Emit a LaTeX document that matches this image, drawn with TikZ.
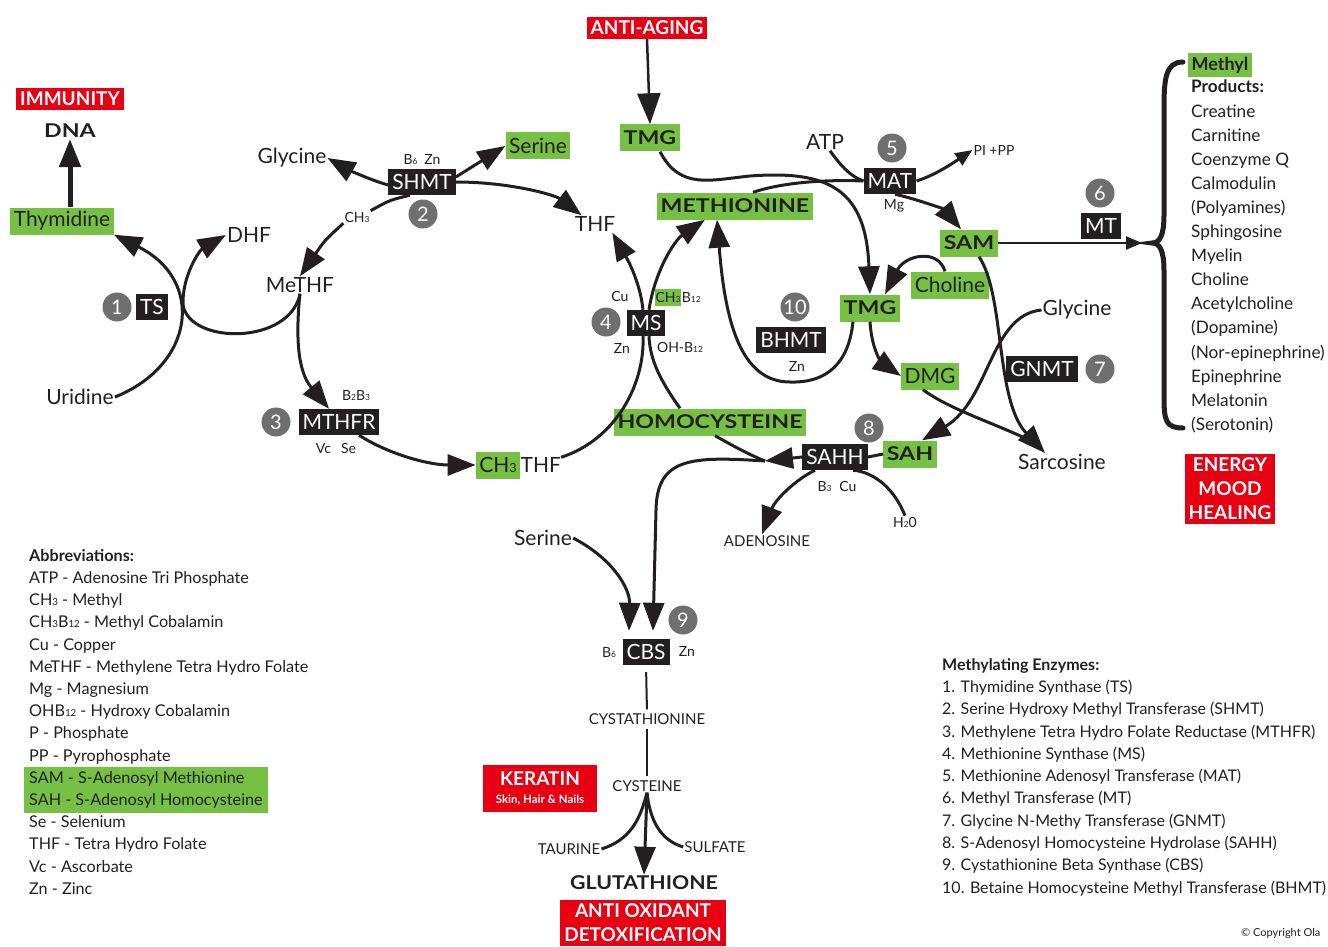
\documentclass[tikz,border=0pt]{standalone}
\usepackage{fontspec}
\setmainfont{Lato}
\usetikzlibrary{arrows.meta}

\definecolor{ink}{RGB}{35,31,32}
\definecolor{leaf}{RGB}{118,193,67}
\definecolor{alert}{RGB}{232,0,18}
\definecolor{stone}{RGB}{110,111,110}

\newcommand{\lo}[1]{\scalebox{0.6}{#1}}
\newcommand{\wb}[1]{\scalebox{1.22}[1]{#1}}
\newcommand{\txtL}{\fontsize{21}{24}\selectfont}
\newcommand{\txtS}{\fontsize{14}{16}\selectfont}
\newcommand{\txtC}{\fontsize{15}{18}\selectfont}
\newcommand{\txtB}{\fontsize{19}{24}\selectfont\bfseries}
\newcommand{\txtE}{\fontsize{21}{24}\selectfont}
\newcommand{\txtN}{\fontsize{20}{20}\selectfont}
\newcommand{\txtW}{\fontsize{19}{24}\selectfont\bfseries}

\begin{document}
\begin{tikzpicture}[x=1pt,y=-1pt,
  txt/.style={inner sep=1pt,text=ink},
  grn/.style={fill=leaf,text=ink,inner xsep=3.5pt,inner ysep=0pt,minimum height=27pt},
  enz/.style={fill=ink,text=white,font=\txtE,inner xsep=4pt,inner ysep=0pt,minimum height=26pt},
  num/.style={circle,fill=stone,text=white,font=\txtN,minimum size=29pt,inner sep=0pt},
  warn/.style={fill=alert,text=white,font=\txtW,inner xsep=4pt,inner ysep=4pt},
  ln/.style={draw=ink,line width=3pt},
  arr/.style={ln,-{Triangle[length=28pt,width=21pt]}}]
\useasboundingbox (0,0) rectangle (1328,947);

% 红色标签
\node[warn] (aging) at (647,28) {ANTI-AGING};
\node[warn] (immun) at (70,99) {IMMUNITY};
\node[warn,align=center,minimum width=114pt,minimum height=47pt] (kera) at (540,788) {KERATIN\\[-6pt]{\fontsize{11.5}{12}\selectfont\bfseries Skin, Hair \& Nails}};
\node[warn,align=center] (energy) at (1230,489) {ENERGY\\MOOD\\HEALING};
\node[warn,align=center] (oxid) at (643,923) {ANTI OXIDANT\\DETOXIFICATION};

% 绿色标签
\node[grn,font=\txtL] (thym) at (62,221) {Thymidine};
\node[grn,font=\txtL] (serT) at (538,146) {Serine};
\node[grn,font=\txtB] (tmgT) at (650,138) {\wb{TMG}};
\node[grn,font=\txtB] (meth) at (735,206) {\wb{METHIONINE}};
\node[grn,font=\txtB] (sam) at (969,243) {\wb{SAM}};
\node[grn,font=\txtL] (chol) at (950,285) {Choline};
\node[grn,font=\txtB] (tmgM) at (870,308) {\wb{TMG}};
\node[grn,font=\txtL] (dmg) at (930,376) {DMG};
\node[grn,font=\txtB] (homo) at (710,422) {\wb{HOMOCYSTEINE}};
\node[grn,font=\txtB] (sah) at (910,454) {\wb{SAH}};
\node[grn,font=\txtL] (ch3) at (498,465) {CH\lo{3}};
\node[txt,font=\txtL,anchor=west,inner sep=0pt] (thf2) at (ch3.east) {THF};
\node[grn,font=\txtS,inner xsep=1pt,minimum height=17pt] (ch3b) at (668,297) {CH\lo{3}};
\node[txt,font=\txtS,anchor=west,inner sep=0pt] (b12) at (ch3b.east) {B\lo{12}};
\node[grn,font=\fontsize{18}{20}\selectfont\bfseries,minimum height=24pt] (methyl) at (1220,65) {Methyl};

% 酶
\node[enz] (ts) at (152,307) {TS};
\node[enz] (shmt) at (422,182) {SHMT};
\node[enz] (mthfr) at (339,422) {MTHFR};
\node[enz] (ms) at (646,323) {MS};
\node[enz] (mat) at (890,181) {MAT};
\node[enz] (mt) at (1101,226) {MT};
\node[enz] (bhmt) at (791,340) {BHMT};
\node[enz] (gnmt) at (1042,369) {GNMT};
\node[enz] (sahh) at (835,457) {SAHH};
\node[enz] (cbs) at (646,652) {CBS};

% 编号
\node[num] (n1) at (117,307) {1};
\node[num] (n2) at (423,214) {2};
\node[num] (n3) at (276,422) {3};
\node[num] (n4) at (606,322) {4};
\node[num] (n5) at (892,148) {5};
\node[num] (n6) at (1100,193) {6};
\node[num] (n7) at (1100,369) {7};
\node[num] (n8) at (869,428) {8};
\node[num] (n9) at (683,620) {9};
\node[num] (n10) at (795,307) {10};

% 文字
\node[txt,font=\txtB] (dna) at (70,131) {\wb{DNA}};
\node[txt,font=\txtL] (gly) at (292,158) {Glycine};
\node[txt,font=\txtS] (b6zn) at (422,160) {B\lo{6}\hspace{7pt}Zn};
\node[txt,font=\txtS,fill=white] (ch3s) at (357,217) {CH\lo{3}};
\node[txt,font=\txtL] (thf) at (595,224) {THF};
\node[txt,font=\txtL] (methf) at (300,285) {MeTHF};
\node[txt,font=\txtL] (dhf) at (249,235) {DHF};
\node[txt,font=\txtL] (uri) at (80,397) {Uridine};
\node[txt,font=\txtS] (b2b3) at (356,396) {B\lo{2}B\lo{3}};
\node[txt,font=\txtS] (vcse) at (336,448) {Vc\hspace{10pt}Se};
\node[txt,font=\txtS] (cu4) at (620,296) {Cu};
\node[txt,font=\txtS] (zn4) at (622,348) {Zn};
\node[txt,font=\txtS] (ohb) at (680,347) {OH-B\lo{12}};
\node[txt,font=\txtL] (atp) at (825,142) {ATP};
\node[txt,font=\txtS] (pipp) at (994,150) {PI +PP};
\node[txt,font=\txtS] (mg) at (894,206) {Mg};
\node[txt,font=\txtS] (zn10) at (797,366) {Zn};
\node[txt,font=\txtL] (glyR) at (1077,310) {Glycine};
\node[txt,font=\txtL] (sarc) at (1062,462) {Sarcosine};
\node[txt,font=\txtS] (b3cu) at (837,486) {B\lo{3}\hspace{8pt}Cu};
\node[txt,font=\txtS] (h2o) at (905,522) {H\lo{2}0};
\node[txt,font=\txtC] (aden) at (767,541) {ADENOSINE};
\node[txt,font=\txtL] (serB) at (543,538) {Serine};
\node[txt,font=\txtS] (b6) at (609,653) {B\lo{6}};
\node[txt,font=\txtS] (zn9) at (687,651) {Zn};
\node[txt,font=\txtC] (cysta) at (647,719) {CYSTATHIONINE};
\node[txt,font=\txtC] (cyste) at (647,786) {CYSTEINE};
\node[txt,font=\txtC] (taur) at (569,849) {TAURINE};
\node[txt,font=\txtC] (sulf) at (715,847) {SULFATE};
\node[txt,font=\txtB] (glut) at (644,883) {\scalebox{1.12}[1]{GLUTATHIONE}};
\coordinate (prod) at (1142,243);
\coordinate (hj) at (765,461);

% 叶酸循环
\draw[arr,line width=5pt] (dna.south |- thym.north) -- (dna.south); % DNA
\draw[arr] (uri.east) .. controls (195,365) and (205,280) .. (thym.south east); % Uridine
\draw[ln] (methf.south) .. controls (290,345) and (190,345) .. (183,305);
\draw[arr] (183,305) .. controls (182,275) and (200,250) .. (dhf.west); % DHF
\draw[arr] (methf.south) .. controls (293,360) and (305,380) .. ([xshift=-10pt]mthfr.north); % MTHFR
\draw[arr] ([xshift=20pt]mthfr.south) .. controls (390,455) and (430,465) .. (ch3.west); % CH3THF
\draw[arr] ([yshift=-3pt]shmt.west) .. controls (370,180) and (345,168) .. (gly.east); % Glycine
\draw[arr] ([yshift=5pt]shmt.east) -- (serT.west); % Serine
\draw[arr] (shmt.east) .. controls (510,182) and (555,195) .. ([xshift=8pt]thf.north west); % THF
\draw[ln] ([xshift=-12pt]shmt.south) .. controls (390,200) .. (ch3s.north east);
\draw[arr] (ch3s.south west) .. controls (325,240) .. (methf.north); % MeTHF

% MS
\draw[ln] (thf2.north east) .. controls (615,440) and (645,385) .. ([xshift=-3pt]ms.south);
\draw[arr] ([xshift=3pt]ms.north) .. controls (655,270) and (675,240) .. ([xshift=-30pt]meth.south);
\draw[ln] ([xshift=-30pt]homo.north) .. controls (660,380) and (650,360) .. ([xshift=3pt]ms.south);
\draw[arr] ([xshift=-3pt]ms.north) .. controls (640,280) and (625,255) .. ([xshift=-4pt]thf.south east);

% 甲基化
\draw[arr,line width=2.5pt,-{Triangle[length=31pt,width=23pt]}] (aging.south) -- (tmgT.north); % ANTI-AGING
\draw[ln] ([xshift=-17pt]tmgM.south) .. controls (848,370) and (820,383) .. (790,382);
\draw[arr] (790,382) .. controls (740,382) and (725,320) .. ([xshift=-18pt]meth.south); % BHMT
\draw[ln] ([xshift=10pt]tmgT.south) .. controls (680,190) and (710,180) .. (750,176);
\draw[arr] (750,176) .. controls (830,170) and (866,190) .. (tmgM.north); % TMG
\draw[ln] ([xshift=18pt]meth.north) .. controls (790,180) and (840,180) .. (mat.west);
\draw[ln] ([xshift=5pt]atp.south) .. controls (845,172) and (855,178) .. (mat.west);
\draw[ln,-{Triangle[length=17pt,width=14pt]}] (mat.east) .. controls (935,175) and (950,165) .. (pipp.west);
\draw[arr] ([xshift=5pt]mat.south) .. controls (920,200) and (945,210) .. ([xshift=-8pt]sam.north); % SAM
\draw[ln,line width=2.5pt,-{Triangle[length=16pt,width=13pt]}] (sam.east) -- (prod); % MT
\draw[arr] ([xshift=-5pt]chol.north) .. controls (938,248) and (905,255) .. ([xshift=-15pt]tmgM.north east); % Choline
\draw[arr] (tmgM.south) .. controls (872,355) and (885,365) .. (dmg.west); % DMG
\draw[arr] ([xshift=10pt]sam.south) .. controls (1005,295) and (995,400) .. ([xshift=-17pt]sarc.north); % Sarcosine
\draw[ln] ([xshift=-7pt]dmg.south) .. controls (950,410) and (1000,425) .. (1035,443);
\draw[arr] (glyR.west) .. controls (990,315) and (990,400) .. ([xshift=12pt]sah.north); % SAH
\draw[ln] (sah.west) -- (sahh.east);
\draw[arr] (sahh.west) -- (hj); % HOMOCYSTEINE
\draw[ln] ([xshift=5pt]homo.south) .. controls (735,447) and (750,455) .. (hj);
\draw[arr] (hj) .. controls (690,456) and (657,458) .. (656,510) -- ([xshift=7pt,yshift=8pt]cbs.north); % CBS
\draw[arr] ([xshift=-20pt]sahh.south) .. controls (795,480) and (775,500) .. ([xshift=-5pt]aden.north); % ADENOSINE
\draw[ln] (h2o.north) .. controls (895,490) and (875,472) .. ([xshift=18pt]sahh.south); % H2O

% 转硫途径
\draw[arr] (serB.east) .. controls (615,560) and (630,590) .. ([xshift=-17pt,yshift=8pt]cbs.north);
\draw[ln,line width=2pt,shorten <=7pt,shorten >=3pt] (cbs.south) -- (cysta.north);
\draw[ln,line width=2pt,shorten <=3pt,shorten >=3pt] (cysta.south) -- (cyste.north);
\draw[arr] (cyste.south) -- (glut.north); % GLUTATHIONE
\draw[ln] (taur.east) .. controls (630,840) and (640,820) .. (cyste.south);
\draw[ln] (sulf.west) .. controls (660,840) and (650,820) .. (cyste.south);

% 甲基产物
\draw[ink,line width=5pt,line cap=round] (1183,62) .. controls (1165,62) and (1164,80) .. (1164,110) -- (1164,215) .. controls (1164,235) and (1160,243) .. (1152,243) .. controls (1160,243) and (1164,251) .. (1164,271) -- (1164,395) .. controls (1164,420) and (1165,428) .. (1183,428);
\node[txt,anchor=north west,inner sep=0pt,align=left,font=\fontsize{17.2}{24.1}\selectfont] (plist) at (1191,80) {\textbf{Products:}\\Creatine\\Carnitine\\Coenzyme Q\\Calmodulin\\(Polyamines)\\Sphingosine\\Myelin\\Choline\\Acetylcholine\\(Dopamine)\\(Nor-epinephrine)\\Epinephrine\\Melatonin\\(Serotonin)};

% 缩写
\fill[leaf] (24,767) rectangle (268,813);
\node[txt,anchor=north west,inner sep=0pt,align=left,font=\fontsize{16.2}{22.2}\selectfont] (abbr) at (29,549) {\textbf{Abbreviations:}\\ATP - Adenosine Tri Phosphate\\CH\lo{3} - Methyl\\CH\lo{3}B\lo{12} - Methyl Cobalamin\\Cu - Copper\\MeTHF - Methylene Tetra Hydro Folate\\Mg - Magnesium\\OHB\lo{12} - Hydroxy Cobalamin\\P - Phosphate\\PP - Pyrophosphate\\SAM - S-Adenosyl Methionine\\SAH - S-Adenosyl Homocysteine\\Se - Selenium\\THF - Tetra Hydro Folate\\Vc - Ascorbate\\Zn - Zinc};
\node[txt,anchor=north west,inner sep=0pt,align=left,font=\fontsize{16}{22.3}\selectfont] (elist) at (942,658) {\textbf{Methylating Enzymes:}\\1. Thymidine Synthase (TS)\\2. Serine Hydroxy Methyl Transferase (SHMT)\\3. Methylene Tetra Hydro Folate Reductase (MTHFR)\\4. Methionine Synthase (MS)\\5. Methionine Adenosyl Transferase (MAT)\\6. Methyl Transferase (MT)\\7. Glycine N-Methy Transferase (GNMT)\\8. S-Adenosyl Homocysteine Hydrolase (SAHH)\\9. Cystathionine Beta Synthase (CBS)\\10. Betaine Homocysteine Methyl Transferase (BHMT)};
\node[txt,anchor=west,font=\fontsize{11}{12}\selectfont] (copy) at (1240,933) {© Copyright Ola};

\end{tikzpicture}
\end{document}
